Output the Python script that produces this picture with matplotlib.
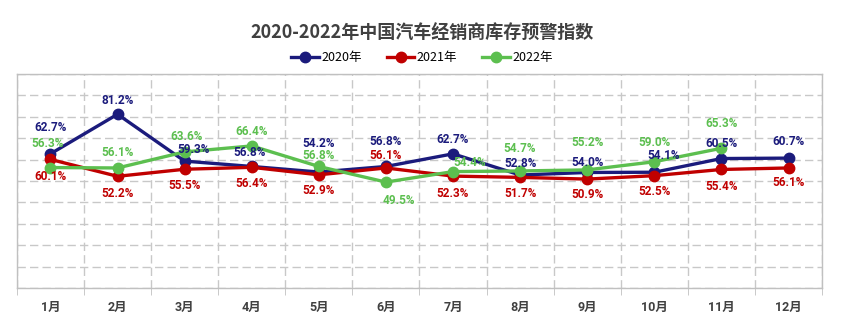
import matplotlib.pyplot as plt
from matplotlib import font_manager
from matplotlib.ticker import MultipleLocator

plt.rcParams['font.family'] = ['Noto Sans CJK SC', 'DejaVu Sans']

# dados
meses = ['1月', '2月', '3月', '4月', '5月', '6月', '7月', '8月', '9月', '10月', '11月', '12月']
v2020 = [62.7, 81.2, 59.3, 56.8, 54.2, 56.8, 62.7, 52.8, 54.0, 54.1, 60.5, 60.7]
v2021 = [60.1, 52.2, 55.5, 56.4, 52.9, 56.1, 52.3, 51.7, 50.9, 52.5, 55.4, 56.1]
v2022 = [56.3, 56.1, 63.6, 66.4, 56.8, 49.5, 54.4, 54.7, 55.2, 59.0, 65.3]

# deslocamento dos rotulos (pixels) para evitar sobreposicao
desl2020 = [(0, 26), (0, 14), (9, 12), (-2, 14), (0, 29), (0, 25), (0, 14), (0, 12), (0, 10), (9, 17), (0, 15), (0, 17)]
desl2021 = [(0, -17), (0, -17), (0, -16), (0, -16), (0, -16), (0, 12), (0, -17), (0, -16), (0, -15), (0, -16), (0, -17), (0, -15)]
desl2022 = [(-3, 24), (0, 15), (2, 15), (0, 14), (0, 11), (13, -18), (17, 9), (0, 22), (0, 27), (0, 19), (0, 25)]

azul = '#1b1b7c'
vermelho = '#c00000'
verde = '#5cbf4f'

nomes = {f.name for f in font_manager.fontManager.ttflist}
fonte_rotulo = 'Liberation Sans Narrow' if 'Liberation Sans Narrow' in nomes else 'Roboto'

fig = plt.figure(figsize=(8.44, 3.29), dpi=100)
ax = fig.add_axes([0.020, 0.1246, 0.954, 0.6504])

series = [
    ('2020年', v2020, azul, desl2020),
    ('2021年', v2021, vermelho, desl2021),
    ('2022年', v2022, verde, desl2022),
]

for nome, vals, cor, desl in series:
    x = list(range(len(vals)))
    ax.plot(x, vals, color=cor, lw=2.4, marker='o', markersize=7.5, label=nome, zorder=3)
    for xi, v, (dx, dy) in zip(x, vals, desl):
        ax.annotate('%.1f%%' % v, (xi, v), xytext=(dx, dy), textcoords='offset pixels',
                    ha='center', va='center', fontsize=8.5, fontweight='bold',
                    color=cor, family=fonte_rotulo, zorder=4)

ax.set_xlim(-0.5, 11.5)
ax.set_ylim(0, 100)
ax.set_xticks(range(12))
ax.set_xticklabels(meses, fontsize=9, fontweight='bold', color='#404040',
                   family=[fonte_rotulo, 'Noto Sans CJK SC'])
ax.xaxis.set_minor_locator(MultipleLocator(1, offset=0.5))
ax.tick_params(axis='x', which='major', length=0, pad=9)
ax.tick_params(axis='x', which='minor', length=5, color='#c0c0c0')
ax.set_yticks(range(0, 101, 10))
ax.set_yticklabels([])
ax.tick_params(axis='y', length=0)

ax.grid(axis='y', which='major', color='#c8c8c8', ls=(0, (6, 3)), lw=1)
ax.grid(axis='x', which='minor', color='#c8c8c8', ls=(0, (6, 3)), lw=1)
for s in ax.spines.values():
    s.set_color('#c0c0c0')
    s.set_linewidth(1)

fig.text(0.5, 0.9, '2020-2022年中国汽车经销商库存预警指数', ha='center', va='center',
         fontsize=13, fontweight='bold', color='#404040')

fig.legend(loc='center', bbox_to_anchor=(0.5, 0.825), ncol=3, frameon=False,
           fontsize=9, handlelength=2.2, columnspacing=2, handletextpad=0.2)

plt.savefig('out.png', dpi=100)
